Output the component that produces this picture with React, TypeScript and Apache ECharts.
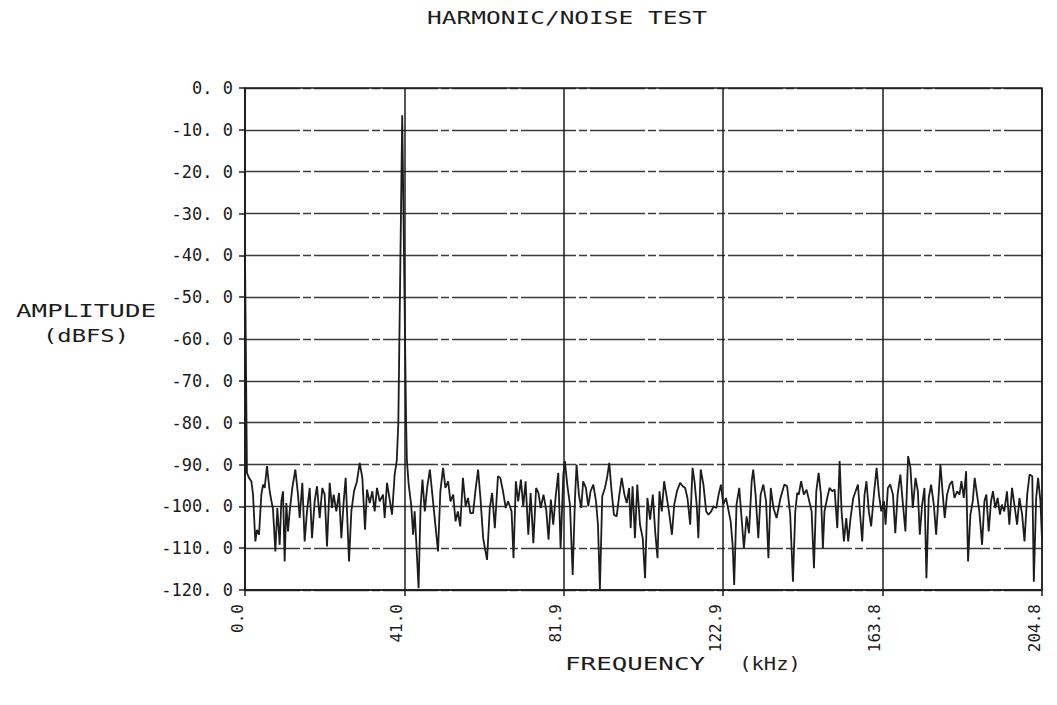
import React, { useEffect, useRef } from "react";
import * as echarts from "echarts";

const titleText = "HARMONIC/NOISE TEST";
const yAxisNameLines = ["AMPLITUDE", "(dBFS)"];
const xAxisNameParts = ["FREQUENCY", "(kHz)"];
const xTickLabels = ["0.0", "41.0", "81.9", "122.9", "163.8", "204.8"];
const xMax = 204.8;
const xStep = 40.96;
const yMin = -120;
const yMax = 0;
const yStep = 10;

// [frequency kHz, amplitude dBFS]
const spectrum: [number, number][] = [
  [0, -40], [0.5, -92], [1.03, -93.2], [1.63, -94], [2.06, -97.2], [2.66, -108.4], [3.08, -105.6], [3.6, -106.8],
  [4.2, -97.2], [4.63, -94.8], [5.05, -95.6], [5.65, -90.4], [6.34, -96.4], [7.2, -100.8], [7.8, -110.8], [8.31, -100.4],
  [8.91, -109.2], [9.34, -98.8], [9.77, -96.4], [10.19, -113.2], [10.62, -99.2], [11.05, -106], [11.48, -101.2], [12.16, -95.6],
  [12.94, -91.2], [13.62, -97.2], [14.05, -102.8], [14.73, -94.4], [15.33, -108.4], [15.93, -101.2], [16.62, -95.6], [17.22, -107.6],
  [17.9, -98.8], [18.5, -95.2], [19.19, -102.8], [19.87, -95.6], [20.47, -97.2], [21.07, -109.6], [21.76, -94.4], [22.36, -100.4],
  [22.79, -97.2], [23.47, -101.2], [24.16, -96.8], [24.76, -107.6], [25.36, -98.8], [25.87, -93.2], [26.73, -113.2], [27.33, -101.2],
  [28.01, -96.4], [28.78, -94], [29.47, -89.6], [30.15, -93.2], [30.84, -105.6], [31.35, -96], [32.04, -99.2], [32.72, -96.4],
  [33.32, -101.2], [33.92, -95.6], [34.61, -98.8], [35.47, -97.2], [35.89, -102.8], [36.49, -94.4], [37.18, -98.4], [37.78, -102],
  [38.46, -92.4], [39.0, -89], [39.4, -80], [40.4, -6.5], [41.4, -80], [41.6, -89], [42.06, -94.8], [42.7, -99.6],
  [43.2, -106.8], [43.6, -101.2], [44.0, -108.4], [44.6, -119.6], [45.1, -100.4], [45.6, -93.6], [46.2, -101.2], [46.8, -95.6],
  [47.5, -91.2], [48.1, -96.8], [49.0, -105.2], [49.6, -110.8], [50.2, -96.4], [50.9, -90.8], [51.5, -95.6], [52.2, -94],
  [52.8, -98.8], [53.5, -97.2], [54.1, -103.6], [54.7, -101.2], [55.3, -104.8], [56.0, -93.2], [56.7, -100], [57.3, -98],
  [57.9, -101.6], [58.6, -101.6], [59.3, -95.6], [59.9, -91.2], [60.5, -98], [61.2, -107.6], [61.8, -110.8], [62.2, -112.8],
  [62.9, -100.4], [63.5, -96.8], [64.2, -105.2], [65.0, -92.8], [65.6, -93.2], [66.3, -96.4], [67.0, -100.4], [67.6, -98.8],
  [68.5, -101.2], [69.0, -112.4], [69.6, -94], [70.2, -98.8], [70.9, -93.6], [71.5, -100], [72.1, -94], [72.8, -106.8],
  [73.4, -96.8], [74.1, -108.8], [74.8, -95.6], [75.4, -96.8], [76.0, -100.4], [76.7, -97.2], [77.4, -100.8], [78.0, -108],
  [78.6, -98.4], [79.2, -104.4], [79.8, -98], [80.5, -92], [81.1, -110], [81.8, -92.4], [82.2, -89.2], [82.8, -94.8],
  [83.5, -99.6], [84.2, -116.4], [84.8, -98], [85.2, -90], [85.8, -97.2], [86.4, -100.4], [86.9, -94], [87.6, -95.6],
  [88.2, -100], [88.8, -96.4], [89.5, -94.8], [90.2, -98.8], [90.7, -104.4], [91.2, -119.8], [91.8, -97.6], [92.5, -95.6],
  [93.1, -92.8], [93.6, -89.6], [94.2, -96.4], [94.8, -102], [95.5, -102.4], [96.2, -97.2], [96.8, -93.2], [97.5, -97.2],
  [98.1, -99.2], [98.7, -95.6], [99.1, -105.2], [99.6, -95.2], [100.2, -107.6], [100.8, -94.8], [101.5, -104.4], [102.2, -107.6],
  [102.8, -117.2], [103.4, -98], [104.1, -103.2], [104.8, -97.2], [105.4, -106], [106.0, -112.4], [106.5, -96.4], [107.1, -101.2],
  [107.7, -94], [108.4, -98], [109.0, -101.6], [109.7, -106.8], [110.3, -99.6], [111.0, -96.4], [111.8, -94.4], [112.5, -95.2],
  [113.1, -95.6], [113.7, -98], [114.4, -104.4], [115.0, -90.8], [115.5, -94], [116.1, -100], [116.5, -107.6], [117.1, -91.2],
  [117.8, -94.8], [118.5, -101.2], [119.1, -102], [119.8, -101.2], [120.4, -100], [121.1, -100.4], [121.7, -97.2], [122.3, -94.8],
  [122.9, -99.6], [123.6, -98], [124.2, -100.8], [124.8, -103.6], [125.3, -109.2], [125.7, -118.8], [126.3, -99.6], [127.0, -95.6],
  [127.6, -102.8], [128.2, -110], [128.9, -102.4], [129.5, -106.4], [130.2, -94], [130.6, -91.2], [131.2, -97.2], [131.9, -107.6],
  [132.5, -97.2], [133.2, -94.8], [133.9, -98.8], [134.5, -112.4], [135.1, -95.6], [135.8, -100.4], [136.6, -102.8], [137.6, -98],
  [138.6, -94.8], [139.3, -95.2], [140.1, -102], [140.8, -118], [141.4, -101.2], [141.9, -96.8], [142.3, -97.2], [142.9, -94],
  [143.6, -97.2], [144.3, -96], [144.9, -98.4], [145.6, -101.2], [146.2, -114.8], [146.8, -96.4], [147.4, -92], [148.0, -97.2],
  [148.5, -110], [148.9, -101.2], [149.6, -98], [150.2, -95.6], [150.9, -96.4], [151.5, -96], [152.2, -105.2], [152.8, -89.2],
  [153.3, -101.2], [153.9, -108.4], [154.5, -102.8], [155.0, -108.4], [155.6, -102.8], [156.3, -98], [156.9, -96.4], [157.5, -94.8],
  [158.0, -101.2], [158.6, -108.4], [159.2, -97.2], [159.7, -94], [160.3, -101.2], [160.9, -104.8], [161.6, -97.2], [162.3, -90.8],
  [162.9, -97.2], [163.5, -101.2], [164.2, -98.8], [164.6, -104.4], [165.2, -95.6], [165.8, -94.8], [166.5, -97.2], [167.1, -106.4],
  [167.7, -97.2], [168.4, -92.4], [169.0, -98.8], [169.7, -106], [170.4, -88], [171.0, -90.8], [171.6, -100.4], [172.3, -93.2],
  [172.9, -96.4], [173.4, -106.8], [174.0, -99.6], [174.6, -95.6], [175.1, -117.2], [175.7, -98], [176.3, -94.8], [177.0, -99.6],
  [177.6, -106.8], [178.3, -96.4], [178.7, -90], [179.3, -97.2], [179.8, -102.8], [180.4, -97.2], [181.1, -94.8], [181.7, -94],
  [182.3, -98], [183.0, -96.4], [183.6, -97.2], [184.1, -94], [184.7, -98], [185.3, -91.6], [185.8, -113.2], [186.4, -102],
  [187.0, -98.8], [187.5, -93.2], [188.1, -97.2], [188.7, -101.2], [189.4, -109.2], [190.0, -98.8], [190.5, -97.2], [191.1, -106],
  [191.7, -98.8], [192.2, -96.4], [192.8, -100.4], [193.4, -98], [194.0, -102], [194.5, -99.6], [195.1, -101.2], [195.8, -96.4],
  [196.4, -104.4], [197.1, -95.6], [197.7, -99.6], [198.4, -104.4], [199.0, -98], [199.7, -102], [200.3, -108.4], [201.0, -97.2],
  [201.6, -92.4], [202.3, -92.8], [202.7, -118], [203.3, -98], [203.8, -93.2], [204.4, -98.8], [204.8, -108]
];

const FONT = "'DejaVu Sans Mono', 'Liberation Mono', monospace";
const INK = "#1c1c1c";

function label(x: number, y: number, text: string, scaleX: number) {
  return {
    type: "text",
    x,
    y,
    scaleX,
    style: {
      text,
      fill: INK,
      font: `17px ${FONT}`,
      align: "center",
      verticalAlign: "middle",
    },
  };
}

export default function App() {
  const ref = useRef<HTMLDivElement>(null);
  useEffect(() => {
    if (!ref.current) return;
    const chart = echarts.init(ref.current, undefined, { renderer: "svg" });
    chart.setOption({
      animation: false,
      backgroundColor: "#ffffff",
      grid: { left: 245, right: 15, top: 88, bottom: 115, containLabel: false },
      xAxis: {
        type: "value",
        min: 0,
        max: xMax,
        interval: xStep,
        axisLine: { show: true, onZero: false, lineStyle: { color: INK, width: 1.5 } },
        axisTick: { show: true, length: 6, lineStyle: { color: INK, width: 1.5 } },
        splitLine: { show: true, lineStyle: { color: INK, width: 1.5 } },
        axisLabel: {
          rotate: 90,
          margin: 14,
          verticalAlign: "bottom",
          showMaxLabel: true,
          showMinLabel: true,
          color: INK,
          fontFamily: FONT,
          fontSize: 16,
          formatter: (v: number) => {
            const i = Math.round(v / xStep);
            return xTickLabels[i] !== undefined ? xTickLabels[i] : "";
          },
        },
      },
      yAxis: {
        type: "value",
        min: yMin,
        max: yMax,
        interval: yStep,
        axisLine: { show: true, onZero: false, lineStyle: { color: INK, width: 1.5 } },
        axisTick: { show: true, length: 6, lineStyle: { color: INK, width: 1.5 } },
        splitLine: {
          show: true,
          lineStyle: { color: "#3a3a3a", width: 1.3, type: [55, 3, 8, 3] },
        },
        axisLabel: {
          margin: 12,
          color: INK,
          fontFamily: FONT,
          fontSize: 17,
          formatter: (v: number) => v.toFixed(1).replace(".", ". "),
        },
      },
      graphic: [
        {
          type: "rect",
          shape: { x: 245, y: 88, width: 797, height: 502 },
          style: { fill: "none", stroke: INK, lineWidth: 1.5 },
          silent: true,
          z: 1,
        },
        label(567, 18, titleText, 1.44),
        label(86, 311, yAxisNameLines[0], 1.52),
        label(86, 336, yAxisNameLines[1], 1.4),
        label(635, 664, xAxisNameParts[0], 1.52),
        label(770, 664, xAxisNameParts[1], 1.2),
      ],
      series: [
        {
          type: "line",
          data: spectrum,
          showSymbol: false,
          symbol: "none",
          lineStyle: { color: INK, width: 1.8 },
          z: 5,
        },
      ],
    });
    return () => chart.dispose();
  }, []);
  return (
    <div
      ref={ref}
      style={{ position: "fixed", left: 0, top: 0, width: 1057, height: 705, background: "#fff" }}
    />
  );
}
